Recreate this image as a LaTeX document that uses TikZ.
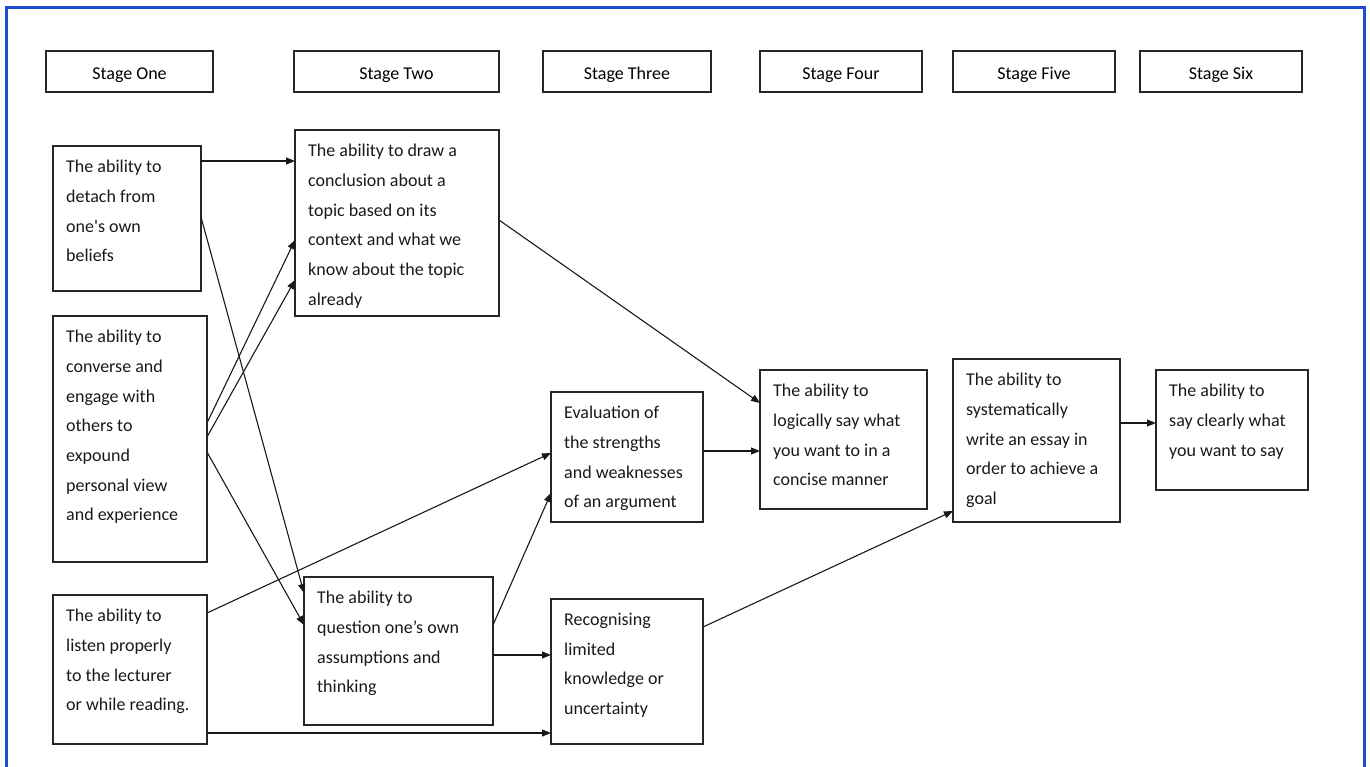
\documentclass[tikz,border=0pt]{standalone}
\usepackage{fontspec}
\setmainfont{Carlito}
\usetikzlibrary{arrows.meta,calc}
\definecolor{frameblue}{HTML}{1F4FD1}
\newcommand\mybox[6]{%
  \node[box, minimum width=#4pt, minimum height=#5pt] (#1) at (#2,#3) {};
  \node[txt] (#1t) at ([xshift=13pt,yshift=-14pt]#1.north west) {#6};}
\newcommand\mystage[5]{%
  \node[stage, minimum width=#4pt] (#1) at (#2,#3) {#5};}
\begin{document}
\begin{tikzpicture}[x=1pt,y=-1pt,
  box/.style={draw=black!85, line width=1.3pt, anchor=north west, inner sep=0pt, outer sep=0pt},
  txt/.style={anchor=north west, align=left, inner sep=0pt, text=black!90, font=\fontsize{18}{29.7}\selectfont},
  stage/.style={draw=black!85, line width=1.3pt, anchor=west, minimum height=41pt, inner sep=0pt, outer sep=0pt, text height=15.6pt, text depth=0pt, font=\fontsize{18}{20}\selectfont},
  conn/.style={-{Triangle[length=9pt,width=7pt]}, line width=1.1pt, black!90}]
\useasboundingbox (0,0) rectangle (1370,767);
\draw[frameblue, line width=3pt] (6,767) -- (6,8) -- (1364,8) -- (1364,767);

\mystage{s1}{46}{71.5}{167}{Stage One}
\mystage{s2}{294}{71.5}{205}{Stage Two}
\mystage{s3}{543}{71.5}{168}{Stage Three}
\mystage{s4}{760}{71.5}{162}{Stage Four}
\mystage{s5}{953}{71.5}{162}{Stage Five}
\mystage{s6}{1140}{71.5}{162}{Stage Six}

\mybox{A}{53}{146}{148}{145}{The ability to\\detach from\\one\textquotesingle s own\\beliefs}
\mybox{B}{295}{130}{204}{186}{The ability to draw a\\conclusion about a\\topic based on its\\context and what we\\know about the topic\\already}
\mybox{C}{53}{316}{154}{246}{The ability to\\converse and\\engage with\\others to\\expound\\personal view\\and experience}
\mybox{D}{53}{595}{154}{149}{The ability to\\listen properly\\to the lecturer\\or while reading.}
\mybox{E}{304}{577}{189}{148}{The ability to\\question one’s own\\assumptions and\\thinking}
\mybox{F}{551}{392}{152}{130}{Evaluation of\\the strengths\\and weaknesses\\of an argument}
\mybox{G}{760}{370}{167}{139}{The ability to\\logically say what\\you want to in a\\concise manner}
\mybox{H}{551}{599}{152}{145}{Recognising\\limited\\knowledge or\\uncertainty}
\mybox{I}{953}{359}{167}{163}{The ability to\\systematically\\write an essay in\\order to achieve a\\goal}
\mybox{J}{1156}{370}{152}{120}{The ability to\\say clearly what\\you want to say}

\draw[conn] ($(A.north east)+(0,15)$) -- ($(B.north west)+(0,31)$);
\draw[conn] ($(C.north east)+(0,107)$) -- ($(B.north west)+(0,110)$);
\draw[conn] ($(C.north east)+(0,121)$) -- ($(B.north west)+(0,150)$);
\draw[conn] ($(A.north east)+(0,71)$) -- ($(E.north west)+(0,16)$);
\draw[conn] ($(C.north east)+(0,136)$) -- ($(E.north west)+(0,48)$);
\draw[conn] ($(D.north east)+(0,18)$) -- ($(F.north west)+(0,61)$);
\draw[conn] ($(E.north east)+(0,48)$) -- ($(F.north west)+(0,101)$);
\draw[conn] ($(E.north east)+(0,78)$) -- ($(H.north west)+(0,56)$);
\draw[conn] ($(D.north east)+(0,138)$) -- ($(H.north west)+(0,134)$);
\draw[conn] ($(B.north east)+(0,90)$) -- ($(G.north west)+(0,33)$);
\draw[conn] ($(F.north east)+(0,59)$) -- ($(G.north west)+(0,81)$);
\draw[conn] ($(H.north east)+(0,28)$) -- ($(I.north west)+(0,152)$);
\draw[conn] ($(I.north east)+(0,64)$) -- ($(J.north west)+(0,53)$);
\end{tikzpicture}
\end{document}
